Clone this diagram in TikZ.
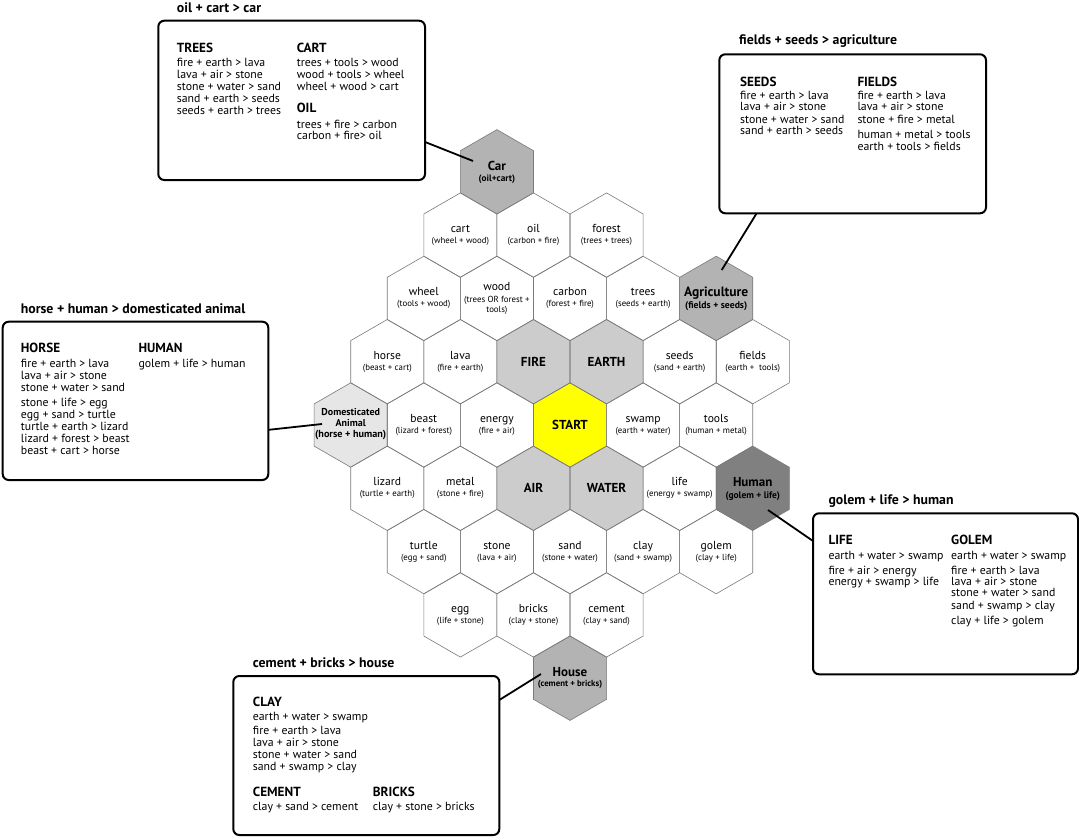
\documentclass[tikz,border=0pt]{standalone}
\usepackage{fontspec}
\setmainfont{PT Sans}
\usetikzlibrary{calc}
\definecolor{hexline}{HTML}{7A7A7A}
\definecolor{basecell}{HTML}{CCCCCC}
\definecolor{goalcell}{HTML}{B3B3B3}
\definecolor{humancell}{HTML}{808080}
\definecolor{animalcell}{HTML}{E6E6E6}
\definecolor{startcell}{HTML}{FFFF00}
\begin{document}
\begin{tikzpicture}[x=1pt,y=-1pt,
  hexcell/.style={draw=hexline, line width=0.6pt, line join=miter},
  recipebox/.style={draw=black, line width=2pt, rounded corners=6pt, fill=white,
    inner sep=0pt, outer sep=0pt},
  link/.style={draw=black, line width=1.8pt},
  rtext/.style={anchor=base west, inner sep=0pt, font=\fontsize{11.8}{13}\selectfont},
  rhead/.style={anchor=base west, inner sep=0pt, font=\fontsize{13.2}{15}\selectfont\bfseries},
  rtitle/.style={anchor=base west, inner sep=0pt, font=\fontsize{13.8}{16}\selectfont\bfseries},
  hname/.style={anchor=base, inner sep=0pt, font=\fontsize{11.6}{13}\selectfont},
  hsub/.style={anchor=base, inner sep=0pt, font=\fontsize{8.8}{10}\selectfont},
  bname/.style={anchor=base, inner sep=0pt, font=\fontsize{13}{15}\selectfont\bfseries},
  bsub/.style={anchor=base, inner sep=0pt, font=\fontsize{9.5}{11}\selectfont\bfseries},
]
\useasboundingbox (0,0) rectangle (1079,836);
\fill[white] (0,0) rectangle (1079,836);

% ---------- honeycomb: centres and fills ----------
\foreach \n/\k/\r/\f in {
  car/-2/-4/goalcell,
  cart/-3/-3/white, oil/-1/-3/white, forest/1/-3/white,
  wheel/-4/-2/white, wood/-2/-2/white, carbon/0/-2/white, trees/2/-2/white, agri/4/-2/goalcell,
  horse/-5/-1/white, lava/-3/-1/white, fire/-1/-1/basecell, earth/1/-1/basecell, seeds/3/-1/white, fields/5/-1/white,
  dom/-6/0/animalcell, beast/-4/0/white, energy/-2/0/white, start/0/0/startcell, swamp/2/0/white, tools/4/0/white,
  lizard/-5/1/white, metal/-3/1/white, air/-1/1/basecell, water/1/1/basecell, life/3/1/white, human/5/1/humancell,
  turtle/-4/2/white, stone/-2/2/white, sand/0/2/white, clay/2/2/white, golem/4/2/white,
  egg/-3/3/white, bricks/-1/3/white, cement/1/3/white,
  house/0/4/goalcell}
{
  \coordinate (\n) at ({570+\k*36.55},{425+\r*63.3});
  \fill[\f, shift={(\n)}] (90:42.2) -- (150:42.2) -- (210:42.2) -- (270:42.2)
        -- (330:42.2) -- (30:42.2) -- cycle;
}
\foreach \n in {car,cart,oil,forest,wheel,wood,carbon,trees,agri,horse,lava,fire,earth,
  seeds,fields,dom,beast,energy,start,swamp,tools,lizard,metal,air,water,life,human,
  turtle,stone,sand,clay,golem,egg,bricks,cement,house}
{
  \draw[hexcell, shift={(\n)}] (90:42.2) -- (150:42.2) -- (210:42.2) -- (270:42.2)
        -- (330:42.2) -- (30:42.2) -- cycle;
}

% ---------- cell labels ----------
\newcommand{\cellpair}[3]{%
  \node[hname] (#1-n) at ($(#1)+(0,-2.5)$) {#2};
  \node[hsub] (#1-s) at ($(#1)+(0,8.5)$) {#3};}
\cellpair{cart}{cart}{(wheel + wood)}
\cellpair{oil}{oil}{(carbon + fire)}
\cellpair{forest}{forest}{(trees + trees)}
\cellpair{wheel}{wheel}{(tools + wood)}
\node[hname] (wood-n) at ($(wood)+(0,-7.5)$) {wood};
\node[hsub] (wood-s) at ($(wood)+(0,3.8)$) {(trees OR forest +};
\node[hsub] (wood-t) at ($(wood)+(0,13.6)$) {tools)};
\cellpair{carbon}{carbon}{(forest + fire)}
\cellpair{trees}{trees}{(seeds + earth)}
\cellpair{horse}{horse}{(beast + cart)}
\cellpair{lava}{lava}{(fire + earth)}
\cellpair{seeds}{seeds}{(sand + earth)}
\cellpair{fields}{fields}{(earth +\ \ tools)}
\cellpair{beast}{beast}{(lizard + forest)}
\cellpair{energy}{energy}{(fire + air)}
\cellpair{swamp}{swamp}{(earth + water)}
\cellpair{tools}{tools}{(human + metal)}
\cellpair{lizard}{lizard}{(turtle + earth)}
\cellpair{metal}{metal}{(stone + fire)}
\cellpair{life}{life}{(energy + swamp)}
\cellpair{turtle}{turtle}{(egg + sand)}
\cellpair{stone}{stone}{(lava + air)}
\cellpair{sand}{sand}{(stone + water)}
\cellpair{clay}{clay}{(sand + swamp)}
\cellpair{golem}{golem}{(clay + life)}
\cellpair{egg}{egg}{(life + stone)}
\cellpair{bricks}{bricks}{(clay + stone)}
\cellpair{cement}{cement}{(clay + sand)}

\node[bname] (fire-n) at ($(fire)+(0,4.5)$) {FIRE};
\node[bname] (earth-n) at ($(earth)+(0,4.5)$) {EARTH};
\node[bname] (start-n) at ($(start)+(0,4.5)$) {START};
\node[bname] (air-n) at ($(air)+(0,4.5)$) {AIR};
\node[bname] (water-n) at ($(water)+(0,4.5)$) {WATER};

\node[bname] (car-n) at ($(car)+(0,-1.5)$) {Car};
\node[bsub, font=\fontsize{9.3}{11}\selectfont\bfseries] (car-s) at ($(car)+(0,9.5)$) {(oil+cart)};
\node[bname, font=\fontsize{13.5}{15}\selectfont\bfseries] (agri-n) at ($(agri)+(0,-1.5)$) {Agriculture};
\node[bsub, font=\fontsize{9.7}{11}\selectfont\bfseries] (agri-s) at ($(agri)+(0,10)$) {(fields + seeds)};
\node[bname] (human-n) at ($(human)+(0,-1.5)$) {Human};
\node[bsub] (human-s) at ($(human)+(0,10)$) {(golem + life)};
\node[bname, font=\fontsize{10}{12}\selectfont\bfseries] (dom-n) at ($(dom)+(0,-9.3)$) {Domesticated};
\node[bname, font=\fontsize{10}{12}\selectfont\bfseries] (dom-m) at ($(dom)+(0,1.7)$) {Animal};
\node[bsub, font=\fontsize{10.2}{12}\selectfont\bfseries] (dom-s) at ($(dom)+(0,12.7)$) {(horse + human)};
\node[bname] (house-n) at ($(house)+(0,-1.5)$) {House};
\node[bsub, font=\fontsize{8.8}{10}\selectfont\bfseries] (house-s) at ($(house)+(0,8.5)$) {(cement + bricks)};

% ---------- recipe boxes ----------
\node[recipebox, minimum width=266.7pt, minimum height=159.3pt] (boxcar) at (291.65,100.35) {};
\node[recipebox, minimum width=266.7pt, minimum height=159pt] (boxagri) at (852.65,133.8) {};
\node[recipebox, minimum width=265.6pt, minimum height=158.3pt] (boxdom) at (135.5,400.85) {};
\node[recipebox, minimum width=265pt, minimum height=161pt] (boxhuman) at (945.5,593.8) {};
\node[recipebox, minimum width=266pt, minimum height=159pt] (boxhouse) at (366.3,755.5) {};

% connectors from the boxes to the goal cells
\coordinate (carlink) at (473,161);
\coordinate (agrilink) at (721.7,270);
\coordinate (domlink) at (322,424);
\coordinate (humanlink) at (768,510);
\coordinate (houselink) at (541,674);
\draw[link] ([yshift=-41.6pt]boxcar.east) -- (carlink);
\draw[link] ([xshift=-96pt]boxagri.south) -- (agrilink);
\draw[link] ([yshift=-29pt]boxdom.east) -- (domlink);
\draw[link] ([yshift=52.8pt]boxhuman.west) -- (humanlink);
\draw[link] ([yshift=55.5pt]boxhouse.east) -- (houselink);

% ---------- box titles ----------
\node[rtitle] (t1) at (176.7,12.5) {oil + cart > car};
\node[rtitle] (t2) at (739,44.5) {fields + seeds > agriculture};
\node[rtitle] (t3) at (20.7,313.5) {horse + human > domesticated animal};
\node[rtitle] (t4) at (828.3,504.5) {golem + life > human};
\node[rtitle] (t5) at (252.7,667) {cement + bricks > house};

% ---------- car recipes ----------
\node[rhead] (h-trees) at (176.7,52.5) {TREES};
\foreach \yy/\rr [count=\i] in {66.5/fire + earth > lava, 78.5/lava + air > stone,
  90.5/stone + water > sand, 102.5/sand + earth > seeds, 114.5/seeds + earth > trees}
  \node[rtext] (trees-\i) at (176.7,\yy) {\rr};
\node[rhead] (h-cart) at (296.7,52.5) {CART};
\foreach \yy/\rr [count=\i] in {66.5/trees + tools > wood, 78.5/wood + tools > wheel,
  90.5/wheel + wood > cart}
  \node[rtext] (cart-\i) at (296.7,\yy) {\rr};
\node[rhead] (h-oil) at (296.7,112.5) {OIL};
\foreach \yy/\rr [count=\i] in {128.5/trees + fire > carbon, 139.5/carbon + fire> oil}
  \node[rtext] (oil-\i) at (296.7,\yy) {\rr};

% ---------- agriculture recipes ----------
\node[rhead] (h-seeds) at (740,86) {SEEDS};
\foreach \yy/\rr [count=\i] in {99.5/fire + earth > lava, 110.5/lava + air > stone,
  123/stone + water > sand, 134.5/sand + earth > seeds}
  \node[rtext] (seeds-\i) at (740,\yy) {\rr};
\node[rhead] (h-fields) at (857.3,86) {FIELDS};
\foreach \yy/\rr [count=\i] in {99.5/fire + earth > lava, 110.5/lava + air > stone,
  123/stone + fire > metal, 138/human + metal > tools, 150/earth + tools > fields}
  \node[rtext] (fields-\i) at (857.3,\yy) {\rr};

% ---------- domesticated animal recipes ----------
\node[rhead] (h-horse) at (20.7,352.5) {HORSE};
\foreach \yy/\rr [count=\i] in {367.8/fire + earth > lava, 379.5/lava + air > stone,
  391.8/stone + water > sand, 406.8/stone + life > egg, 418.5/egg + sand > turtle,
  430.8/turtle + earth > lizard, 442.8/lizard + forest > beast, 454.2/beast + cart > horse}
  \node[rtext] (horse-\i) at (20.7,\yy) {\rr};
\node[rhead] (h-human) at (138.3,352.5) {HUMAN};
\node[rtext] (human-1) at (138.3,367.8) {golem + life > human};

% ---------- human recipes ----------
\node[rhead] (h-life) at (828.3,544.5) {LIFE};
\foreach \yy/\rr [count=\i] in {559.5/earth + water > swamp, 574.5/fire + air > energy,
  585.2/energy + swamp > life}
  \node[rtext] (life-\i) at (828.3,\yy) {\rr};
\node[rhead] (h-golem) at (951,544.5) {GOLEM};
\foreach \yy/\rr [count=\i] in {559.5/earth + water > swamp, 574.5/fire + earth > lava,
  585.2/lava + air > stone, 596.8/stone + water > sand, 609.5/sand + swamp > clay,
  624.5/clay + life > golem}
  \node[rtext] (golem-\i) at (951,\yy) {\rr};

% ---------- house recipes ----------
\node[rhead] (h-clay) at (252.7,706) {CLAY};
\foreach \yy/\rr [count=\i] in {720.2/earth + water > swamp, 734.5/fire + earth > lava,
  746.2/lava + air > stone, 758.5/stone + water > sand, 770.2/sand + swamp > clay}
  \node[rtext] (clay-\i) at (252.7,\yy) {\rr};
\node[rhead] (h-cement) at (252.7,796) {CEMENT};
\node[rtext] (cement-1) at (252.7,810.2) {clay + sand > cement};
\node[rhead] (h-bricks) at (372.7,796) {BRICKS};
\node[rtext] (bricks-1) at (372.7,810.2) {clay + stone > bricks};
\end{tikzpicture}
\end{document}
